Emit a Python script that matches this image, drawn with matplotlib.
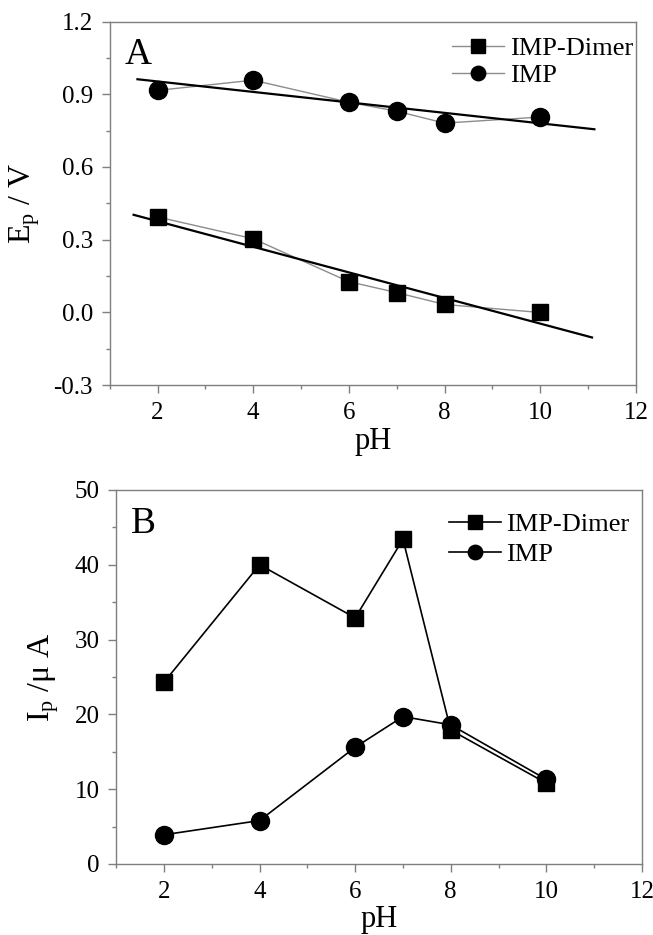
import numpy as np
import matplotlib
matplotlib.use("Agg")
import matplotlib.pyplot as plt
from matplotlib.ticker import MultipleLocator, FormatStrFormatter

plt.rcParams['font.family'] = ['Liberation Serif', 'DejaVu Serif']
plt.rcParams['mathtext.fontset'] = 'custom'
plt.rcParams['mathtext.rm'] = 'Liberation Serif'
plt.rcParams['mathtext.it'] = 'Liberation Serif:italic'

# data
ph = [2, 4, 6, 7, 8, 10]
ep_dimer = [0.394, 0.304, 0.127, 0.082, 0.033, 0.0]
ep_imp = [0.916, 0.958, 0.867, 0.830, 0.781, 0.806]
ip_dimer = [24.3, 40.0, 32.9, 43.4, 17.9, 10.8]
ip_imp = [3.9, 5.8, 15.6, 19.7, 18.6, 11.3]

# linear fits drawn in panel A (pH start, pH end, slope, intercept)
fit_dimer = (1.5, 11.08, -0.0528, 0.482)
fit_imp = (1.58, 11.13, -0.0216, 0.996)

frame = '#7f7f7f'


def style_axes(ax):
    for s in ax.spines.values():
        s.set_color(frame)
        s.set_linewidth(1.0)
    ax.tick_params(which='both', direction='out', color=frame, top=False, right=False)
    ax.tick_params(which='major', length=6, width=1, labelsize=18, pad=6)
    ax.tick_params(which='minor', length=3, width=1)
    ax.set_xlim(1, 12)
    ax.xaxis.set_major_locator(MultipleLocator(2))
    ax.xaxis.set_minor_locator(MultipleLocator(1))
    ax.set_xlabel('pH', fontsize=22, labelpad=2)


def add_legend(ax, anchor, spacing):
    ax.legend(loc='upper right', bbox_to_anchor=anchor, frameon=False, fontsize=19,
              handlelength=2.0, handletextpad=0.2, borderaxespad=0, borderpad=0,
              labelspacing=spacing, markerscale=0.8)


fig = plt.figure(figsize=(6.53, 9.35), dpi=100)

# ---- panel A
ax1 = fig.add_axes([0.168, 0.588, 0.806, 0.389])
ax1.plot(ph, ep_dimer, color='#8c8c8c', lw=1.0, marker='s', ms=12,
         mfc='black', mec='black', label='IMP-Dimer')
ax1.plot(ph, ep_imp, color='#8c8c8c', lw=1.0, marker='o', ms=13,
         mfc='black', mec='black', label='IMP')
for x0, x1, k, b in [fit_dimer, fit_imp]:
    xs = np.array([x0, x1])
    ax1.plot(xs, k * xs + b, color='black', lw=1.6)
style_axes(ax1)
ax1.set_ylim(-0.3, 1.2)
ax1.yaxis.set_major_locator(MultipleLocator(0.3))
ax1.yaxis.set_minor_locator(MultipleLocator(0.15))
ax1.yaxis.set_major_formatter(FormatStrFormatter('%.1f'))
ax1.set_ylabel(r'E$_\mathrm{p}$ / V', fontsize=23, labelpad=8)
ax1.text(0.028, 0.955, 'A', transform=ax1.transAxes, fontsize=27, va='top', ha='left')
add_legend(ax1, (0.994, 0.958), 0.12)

# ---- panel B
ax2 = fig.add_axes([0.178, 0.076, 0.805, 0.40])
ax2.plot(ph, ip_dimer, color='black', lw=1.2, marker='s', ms=12,
         mfc='black', mec='black', label='IMP-Dimer')
ax2.plot(ph, ip_imp, color='black', lw=1.2, marker='o', ms=13,
         mfc='black', mec='black', label='IMP')
style_axes(ax2)
ax2.set_ylim(0, 50)
ax2.yaxis.set_major_locator(MultipleLocator(10))
ax2.yaxis.set_minor_locator(MultipleLocator(5))
ax2.set_ylabel(r'I$_\mathrm{p}$ /μ A', fontsize=23, labelpad=10)
ax2.text(0.028, 0.955, 'B', transform=ax2.transAxes, fontsize=27, va='top', ha='left')
add_legend(ax2, (0.977, 0.94), 0.25)

fig.savefig('out.png', dpi=100)
